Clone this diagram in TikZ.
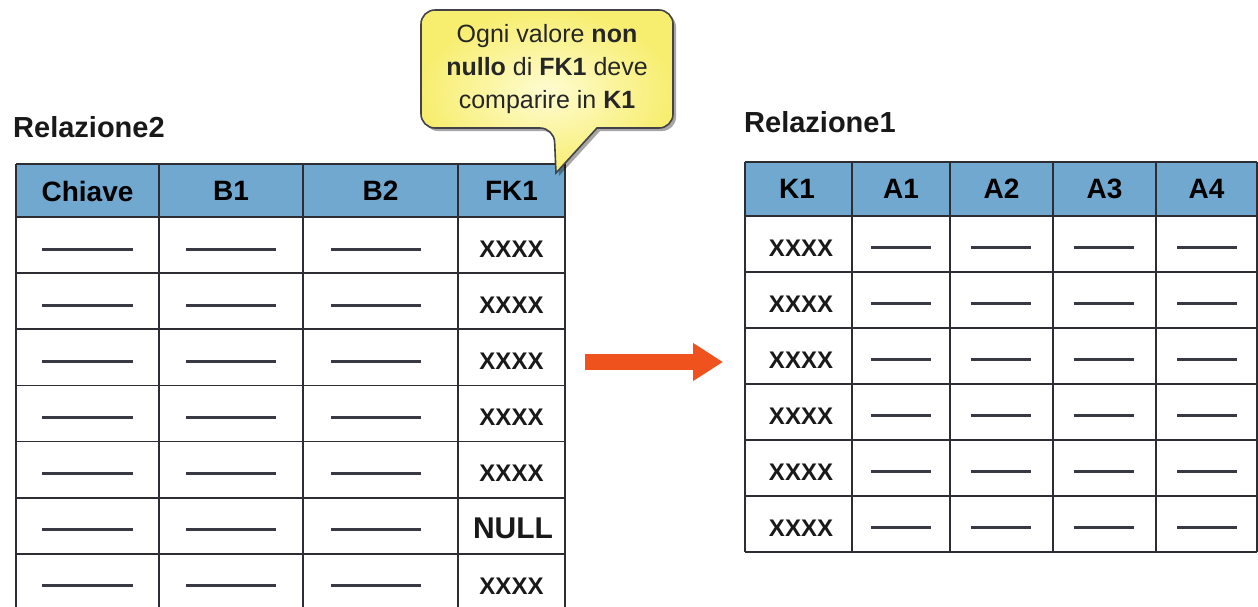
\documentclass[tikz,border=0pt]{standalone}
\usepackage{fontspec}
\setmainfont{Liberation Sans}
\usetikzlibrary{shadows,arrows.meta}
\definecolor{hdrblue}{RGB}{112,168,208}
\definecolor{gridc}{RGB}{45,45,52}
\definecolor{dashc}{RGB}{55,58,66}
\definecolor{arrowc}{RGB}{240,82,30}
\definecolor{callin}{RGB}{255,252,210}
\definecolor{callout}{RGB}{247,238,112}
\begin{document}
\begin{tikzpicture}[x=1pt,y=-1pt,
  gridline/.style={draw=gridc,line width=1.8pt},
  hdrtext/.style={font=\fontsize{28}{30}\selectfont\bfseries,text=black,inner sep=0pt},
  keytext/.style={font=\fontsize{24}{26}\selectfont\bfseries,text=black!90,inner sep=0pt},
  nulltext/.style={font=\fontsize{30}{32}\selectfont\bfseries,text=black!90,inner sep=0pt},
  titletext/.style={font=\fontsize{29}{31}\selectfont\bfseries,text=black!90,inner sep=0pt,anchor=base west},
  dashval/.style={draw=dashc,line width=3pt},
  calloutbox/.style={draw=gridc!90,line width=1.6pt,inner color=callin,outer color=callout,
    drop shadow={shadow xshift=3pt,shadow yshift=-3pt,opacity=0.35,fill=black}},
  calltext/.style={font=\fontsize{25}{33}\selectfont,text=black!85,align=center,inner sep=0pt},
  bigarrow/.style={draw=arrowc,line width=16pt,-{Triangle[length=30pt,width=36pt]}}
]
\useasboundingbox (0,0) rectangle (1258,606);
\clip (0,0) rectangle (1258,606);
\fill[white] (0,0) rectangle (1258,606);

% ---------------- Relazione2 (left) ----------------
\node[titletext] (t2) at (13,137) {Relazione2};
\fill[hdrblue] (16,164) rectangle (565,217);
% horizontal lines
\foreach \k in {0,...,7} {
  \draw[gridline] (16,{217+56.14*\k}) -- (565,{217+56.14*\k});
}
\draw[gridline] (16,164) -- (565,164);
% vertical lines
\foreach \xx in {16,159,303,458,565} {
  \draw[gridline] (\xx,164) -- (\xx,612);
}
\node[hdrtext] (l-h1) at (87.5,191) {Chiave};
\node[hdrtext] (l-h2) at (231,191) {B1};
\node[hdrtext] (l-h3) at (380.5,191) {B2};
\node[hdrtext] (l-h4) at (511.5,191) {FK1};
\foreach \k in {0,...,6} {
  \pgfmathsetmacro{\yc}{217+56.14*\k+28.07+4}
  \draw[dashval] (42,\yc) -- (133,\yc);
  \draw[dashval] (186,\yc) -- (276,\yc);
  \draw[dashval] (331,\yc) -- (421,\yc);
}
\node[keytext] (fk-1) at (511.5,{217+28.07+4}) {XXXX};
\node[keytext] (fk-2) at (511.5,{217+56.14+28.07+4}) {XXXX};
\node[keytext] (fk-3) at (511.5,{217+2*56.14+28.07+4}) {XXXX};
\node[keytext] (fk-4) at (511.5,{217+3*56.14+28.07+4}) {XXXX};
\node[keytext] (fk-5) at (511.5,{217+4*56.14+28.07+4}) {XXXX};
\node[nulltext] (fk-6) at (513,{217+5*56.14+28.07+3}) {NULL};
\node[keytext] (fk-7) at (511.5,{217+6*56.14+28.07+4}) {XXXX};

% ---------------- Relazione1 (right) ----------------
\node[titletext] (t1) at (744,132) {Relazione1};
\fill[hdrblue] (745,162) rectangle (1257,216);
\foreach \k in {0,...,6} {
  \draw[gridline] (745,{216+56*\k}) -- (1257,{216+56*\k});
}
\draw[gridline] (745,162) -- (1257,162);
\foreach \xx in {745,852,950,1053,1156,1257} {
  \draw[gridline] (\xx,162) -- (\xx,552);
}
\node[hdrtext] (r-h1) at (797,189) {K1};
\node[hdrtext] (r-h2) at (901,189) {A1};
\node[hdrtext] (r-h3) at (1001.5,189) {A2};
\node[hdrtext] (r-h4) at (1104.5,189) {A3};
\node[hdrtext] (r-h5) at (1206.5,189) {A4};
\foreach \k in {1,...,6} {
  \pgfmathsetmacro{\yc}{216+56*(\k-1)+28+3}
  \node[keytext] (k1-\k) at (801,\yc+1) {XXXX};
  \draw[dashval] (871,\yc) -- (931,\yc);
  \draw[dashval] (971,\yc) -- (1031,\yc);
  \draw[dashval] (1074,\yc) -- (1134,\yc);
  \draw[dashval] (1177,\yc) -- (1237,\yc);
}

% ---------------- arrow ----------------
\coordinate (arrS) at (585,362);
\coordinate (arrE) at (723,362);
\draw[bigarrow] (arrS) -- (arrE);

% ---------------- callout ----------------
\path[calloutbox] (597,128) [rounded corners=14pt] -- (673,128) -- (673,10) -- (421,10) -- (421,128) -- (554,128) [sharp corners] -- (556,173) -- cycle;
\node[calltext] (note) at (547,69) {Ogni valore \textbf{non}\\\textbf{nullo} di \textbf{FK1} deve\\comparire in \textbf{K1}};
\end{tikzpicture}
\end{document}
